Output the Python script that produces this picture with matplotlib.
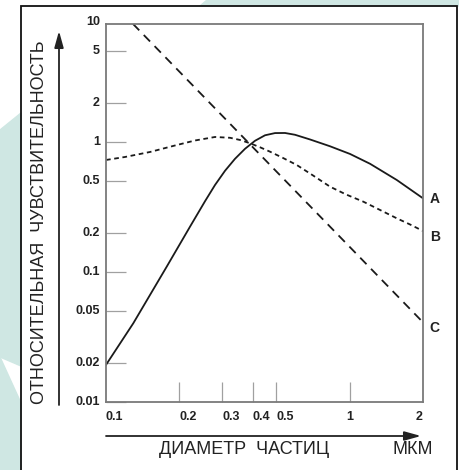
import matplotlib
matplotlib.use('Agg')
import matplotlib.pyplot as plt
from matplotlib.patches import Polygon, Rectangle, FancyArrowPatch
from matplotlib.ticker import FixedLocator, NullLocator

# curve A (solid)
a_diam = [0.1, 0.1294, 0.1775, 0.2212, 0.2550, 0.2802, 0.3080, 0.3385, 0.3721, 0.4089,
          0.4494, 0.4940, 0.5429, 0.5967, 0.6880, 0.8308, 1.0037, 1.2125, 1.5609, 2.0]
a_sens = [0.0193, 0.0403, 0.1099, 0.2231, 0.3505, 0.4670, 0.6007, 0.7427, 0.8866, 1.0215,
          1.1258, 1.1708, 1.1727, 1.1361, 1.0452, 0.9267, 0.8087, 0.6797, 0.5101, 0.3688]
# curve B (short dashes)
b_diam = [0.1, 0.1197, 0.1516, 0.1920, 0.2320, 0.2802, 0.3228, 0.3549, 0.3901, 0.4288,
          0.4712, 0.5328, 0.6064, 0.7076, 0.8308, 0.9665, 1.1385, 1.3331, 1.5609, 1.7700, 2.0]
b_sens = [0.7270, 0.7667, 0.8377, 0.9399, 1.0269, 1.0925, 1.0772, 1.0361, 0.9772, 0.9104,
          0.8420, 0.7533, 0.6655, 0.5525, 0.4530, 0.3947, 0.3473, 0.2998, 0.2588, 0.2319, 0.2067]
# curve C (long dashes)
c_diam = [0.129, 2.0]
c_sens = [8.1, 0.041]

x_ticks = [0.2, 0.3, 0.4, 0.5, 1]
x_labels = ['0.1', '0.2', '0.3', '0.4', '0.5', '1', '2']
x_label_pos = [0.1, 0.2, 0.3, 0.4, 0.5, 1, 2]
y_ticks = [0.01, 0.02, 0.05, 0.1, 0.2, 0.5, 1, 2, 5]
y_labels = ['0.01', '0.02', '0.05', '0.1', '0.2', '0.5', '1', '2', '5']

W, H = 460, 470
teal = '#cfe7e3'
grey = '#7a7a7a'
narrow = ['Liberation Sans Narrow', 'Liberation Sans', 'DejaVu Sans']
tick_font = dict(family=narrow, weight='bold', size=9, color='#222222')


def px(x, y):
    return (x / W, 1 - y / H)


fig = plt.figure(figsize=(4.6, 4.7), dpi=100)

# decorative background
fig.add_artist(Polygon([px(200, 6), px(207, 0), px(460, 0), px(460, 6)],
                       closed=True, color=teal, transform=fig.transFigure, zorder=0))
fig.add_artist(Polygon([px(0, 130), px(21, 113), px(21, 366), px(0, 357)],
                       closed=True, color=teal, transform=fig.transFigure, zorder=0))
fig.add_artist(Polygon([px(0, 357), px(21, 403), px(21, 470), px(0, 470)],
                       closed=True, color=teal, transform=fig.transFigure, zorder=0))
fig.add_artist(Rectangle(px(21, 490), 436 / W, 484 / H, fill=False,
                         edgecolor='#111111', linewidth=1.3,
                         transform=fig.transFigure, zorder=1))

ax = fig.add_axes([106 / W, 1 - 402 / H, 317 / W, 378 / H])
ax.set_xscale('log')
ax.set_yscale('log')
ax.set_xlim(0.1, 2)
ax.set_ylim(0.01, 8.08)

ax.plot(a_diam, a_sens, color='#1a1a1a', lw=1.3)
ax.plot(b_diam, b_sens, color='#1a1a1a', lw=1.3, dashes=(2.6, 2.0))
ax.plot(c_diam, c_sens, color='#1a1a1a', lw=1.3, dashes=(5.0, 3.6))

for s in ax.spines.values():
    s.set_color(grey)
    s.set_linewidth(1.3)

ax.xaxis.set_major_locator(FixedLocator(x_ticks))
ax.xaxis.set_minor_locator(NullLocator())
ax.yaxis.set_major_locator(FixedLocator(y_ticks))
ax.yaxis.set_minor_locator(NullLocator())
ax.tick_params(axis='both', direction='in', length=14.5, width=0.9, color='#a0a0a0',
               labelbottom=False, labelleft=False)

# x tick labels (mostly left-aligned at the tick)
for pos, lab in zip(x_label_pos, x_labels):
    ha = 'left' if pos < 1 else ('center' if pos == 1 else 'right')
    ax.annotate(lab, xy=(pos, 0), xycoords=('data', 'axes fraction'),
                xytext=(0, -9), textcoords='offset pixels', ha=ha, va='top', **tick_font)

for pos, lab in zip(y_ticks, y_labels):
    ax.annotate(lab, xy=(0, pos), xycoords=('axes fraction', 'data'),
                xytext=(-6, 0), textcoords='offset pixels', ha='right', va='center', **tick_font)
ax.annotate('10', xy=(0, 1), xycoords='axes fraction', xytext=(-6, 2),
            textcoords='offset pixels', ha='right', va='center', **tick_font)

# curve names
lab_font = dict(family=narrow, weight='bold', size=10, color='#222222')
ax.annotate('A', xy=(a_diam[-1], a_sens[-1]), xytext=(7, -1), textcoords='offset pixels',
            ha='left', va='center', annotation_clip=False, **lab_font)
ax.annotate('B', xy=(b_diam[-1], b_sens[-1]), xytext=(7, -6), textcoords='offset pixels',
            ha='left', va='center', annotation_clip=False, **lab_font)
ax.annotate('C', xy=(c_diam[-1], c_sens[-1]), xytext=(6, -6), textcoords='offset pixels',
            ha='left', va='center', annotation_clip=False, **lab_font)

# axis arrows and titles
arrow = dict(arrowstyle='-|>,head_length=0.9,head_width=0.25', mutation_scale=11,
             color='#222222', lw=1.3, shrinkA=0, shrinkB=0)
fig.add_artist(FancyArrowPatch(px(59, 405), px(59, 31), transform=fig.transFigure, **arrow))
fig.add_artist(FancyArrowPatch(px(106, 436), px(421, 436), transform=fig.transFigure, **arrow))

title_font = dict(family=['Liberation Sans', 'DejaVu Sans'], size=13, color='#222222')
fig.text(*px(40, 222), 'ОТНОСИТЕЛЬНАЯ  ЧУВСТВИТЕЛЬНОСТЬ', rotation=90,
         ha='center', va='center', **title_font)
fig.text(*px(244, 450), 'ДИАМЕТР  ЧАСТИЦ', ha='center', va='center', **title_font)
fig.text(*px(413, 450), 'МКМ', ha='center', va='center', **title_font)

fig.savefig('out.png', dpi=100)
